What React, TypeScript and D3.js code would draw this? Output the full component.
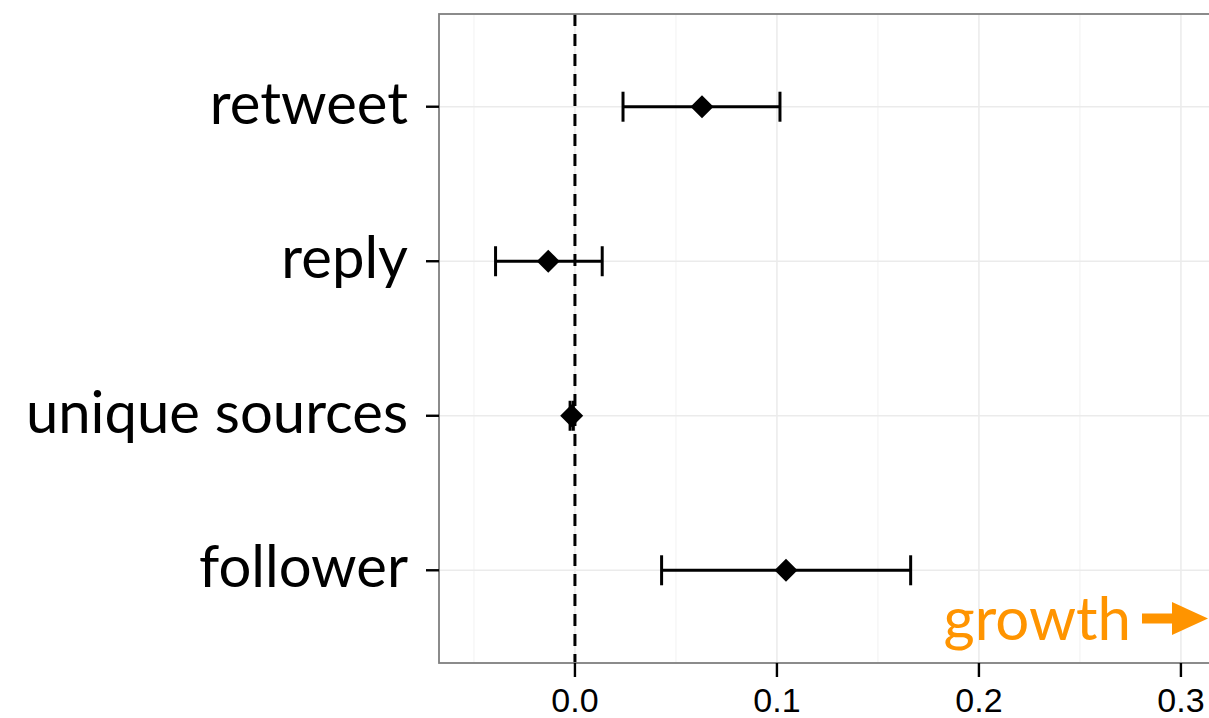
import React from "react";
import * as d3 from "d3";

// Effect estimates with 95% intervals, top to bottom
const categories = ["retweet", "reply", "unique sources", "follower"];
const estimates = [0.0629, -0.0132, -0.0016, 0.1045];
const lowerBounds = [0.0238, -0.0393, -0.0024, 0.0429];
const upperBounds = [0.1015, 0.0135, -0.0008, 0.1662];
const xTicks = [0.0, 0.1, 0.2, 0.3];
const xMinorTicks = [-0.05, 0.05, 0.15, 0.25];

const W = 1209;
const H = 718;
const panel = { left: 439, top: 14, right: 1209, bottom: 663 };

export default function App() {
  const x = d3
    .scaleLinear()
    .domain([-0.0673, 0.3139])
    .range([panel.left, panel.right]);

  // discrete axis, ggplot-style expansion of 0.6 units on each side
  const yIndex = d3
    .scaleLinear()
    .domain([0.4, 4.6])
    .range([panel.bottom, panel.top]);
  const yPos = (i: number) => yIndex(categories.length - i);

  const capH = 15;
  const dia = 11.5;
  const lw = 3;
  const labelFont = "'Lato', 'Open Sans', sans-serif";
  const tickFont = "'Liberation Sans', Arial, sans-serif";
  const orange = "#FF9400";

  return (
    <svg
      width={W}
      height={H}
      style={{ position: "absolute", left: 0, top: 0, background: "#fff" }}
    >
      <defs>
        <clipPath id="panelClip">
          <rect
            x={panel.left}
            y={panel.top}
            width={panel.right - panel.left}
            height={panel.bottom - panel.top}
          />
        </clipPath>
      </defs>

      {/* grid */}
      <g clipPath="url(#panelClip)">
        {xMinorTicks.map((t) => (
          <line
            key={"mn" + t}
            x1={x(t)}
            x2={x(t)}
            y1={panel.top}
            y2={panel.bottom}
            stroke="#f4f4f4"
            strokeWidth={1.2}
          />
        ))}
        {xTicks.map((t) => (
          <line
            key={"mj" + t}
            x1={x(t)}
            x2={x(t)}
            y1={panel.top}
            y2={panel.bottom}
            stroke="#ebebeb"
            strokeWidth={1.5}
          />
        ))}
        {categories.map((c, i) => (
          <line
            key={"hg" + c}
            x1={panel.left}
            x2={panel.right}
            y1={yPos(i)}
            y2={yPos(i)}
            stroke="#ebebeb"
            strokeWidth={1.5}
          />
        ))}
      </g>

      {/* reference line at zero */}
      <line
        x1={x(0)}
        x2={x(0)}
        y1={panel.top}
        y2={panel.bottom}
        stroke="#000"
        strokeWidth={lw}
        strokeDasharray="12 8"
      />

      {/* interval bars and point estimates */}
      {categories.map((c, i) => {
        const y = yPos(i);
        const lo = x(lowerBounds[i]);
        const hi = x(upperBounds[i]);
        const cx = x(estimates[i]);
        return (
          <g key={"bar" + c}>
            <line x1={lo} x2={hi} y1={y} y2={y} stroke="#000" strokeWidth={lw} />
            <line x1={lo} x2={lo} y1={y - capH} y2={y + capH} stroke="#000" strokeWidth={lw} />
            <line x1={hi} x2={hi} y1={y - capH} y2={y + capH} stroke="#000" strokeWidth={lw} />
            <path
              d={`M${cx},${y - dia}L${cx + dia},${y}L${cx},${y + dia}L${cx - dia},${y}Z`}
              fill="#000"
            />
          </g>
        );
      })}

      {/* panel border */}
      <rect
        x={panel.left}
        y={panel.top}
        width={panel.right - panel.left + 2}
        height={panel.bottom - panel.top}
        fill="none"
        stroke="#7f7f7f"
        strokeWidth={1.8}
      />

      {/* y axis ticks and labels */}
      {categories.map((c, i) => (
        <g key={"yl" + c}>
          <line
            x1={panel.left - 13}
            x2={panel.left}
            y1={yPos(i)}
            y2={yPos(i)}
            stroke="#000"
            strokeWidth={2.4}
          />
          <text
            x={408}
            y={yPos(i) + 17}
            textAnchor="end"
            fontFamily={labelFont}
            fontSize={58}
            fill="#000"
          >
            {c}
          </text>
        </g>
      ))}

      {/* x axis ticks and labels */}
      {xTicks.map((t) => (
        <g key={"xl" + t}>
          <line
            x1={x(t)}
            x2={x(t)}
            y1={panel.bottom}
            y2={panel.bottom + 14}
            stroke="#000"
            strokeWidth={2.4}
          />
          <text
            x={x(t)}
            y={712}
            textAnchor="middle"
            fontFamily={tickFont}
            fontSize={34}
            fill="#000"
          >
            {d3.format(".1f")(t)}
          </text>
        </g>
      ))}

      {/* direction annotation */}
      <text
        x={1131}
        y={640}
        textAnchor="end"
        fontFamily={labelFont}
        fontSize={60}
        fill={orange}
      >
        growth
      </text>
      <line x1={1142} x2={1178} y1={618.5} y2={618.5} stroke={orange} strokeWidth={10} />
      <path d="M1172,602L1208,618.5L1172,635Z" fill={orange} />
    </svg>
  );
}
